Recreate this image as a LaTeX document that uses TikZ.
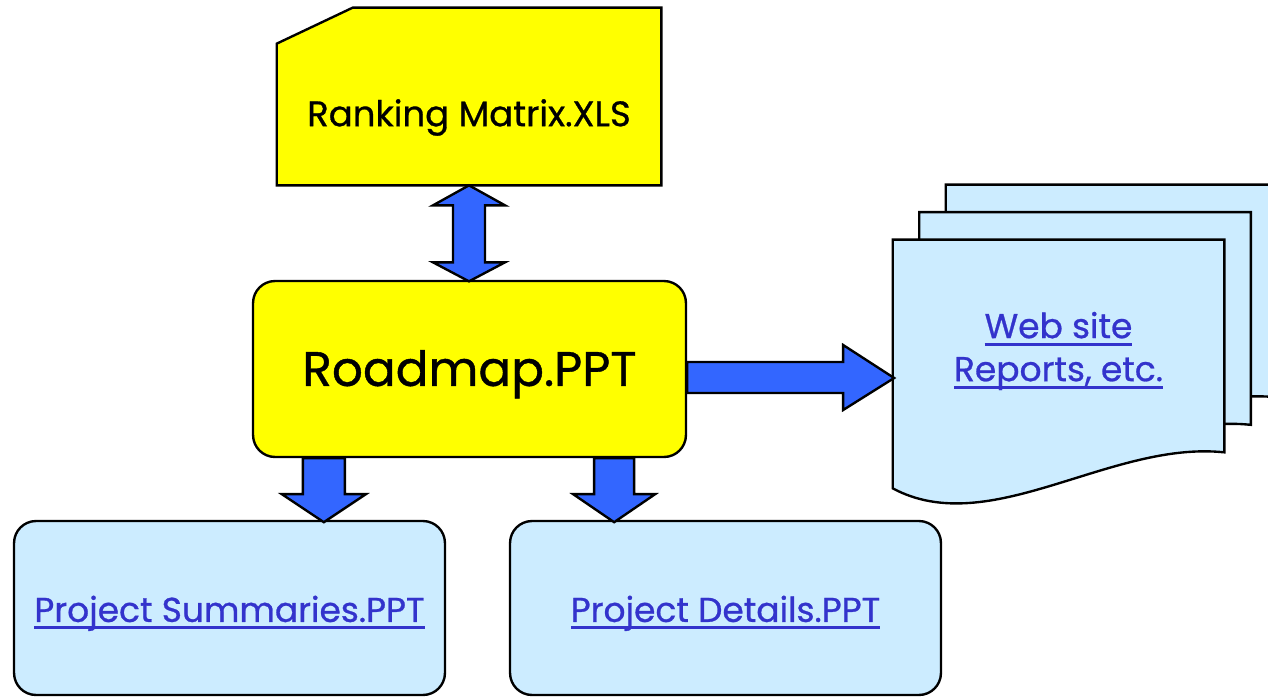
\documentclass[tikz,border=0pt]{standalone}
\usepackage{fontspec}
\setmainfont{Poppins}[FakeBold=0.8]
\usepackage{tikz}
\usetikzlibrary{calc}
\usetikzlibrary{backgrounds}

\definecolor{cardyellow}{HTML}{FFFF00}
\definecolor{pageblue}{HTML}{CCECFF}
\definecolor{arrowblue}{HTML}{3366FF}
\definecolor{linkblue}{HTML}{3333CC}

% thick underline for the link texts
\newcommand\linkline[1]{\leavevmode\setbox0=\hbox{#1}\rlap{\rule[-0.22em]{\wd0}{1.8pt}}\box0}
% move a text down without changing its box
\newcommand\lowertext[2]{\raisebox{-#1}[\height][\depth]{#2}}

\tikzset{
	outline/.style={draw=black,line width=1.35pt,line join=miter},
	yellowbox/.style={outline,fill=cardyellow,rounded corners=0.44cm},
	bluebox/.style={outline,fill=pageblue,rounded corners=0.44cm,minimum width=8.62cm,minimum height=3.48cm},
	blockarrow/.style={outline,fill=arrowblue},
	linktext/.style={text=linkblue,font=\fontsize{19.6}{24.5}\selectfont,align=center}
}

\begin{document}
	\begin{tikzpicture}[x=0.02cm,y=-0.02cm]
		\path[use as bounding box] (0,0) rectangle (1268,697);
		\clip (0,0) rectangle (1268,697);

		\begin{scope}[every node/.style={inner sep=0pt}]
			\node (rank) [minimum width=7.68cm,minimum height=2.82cm,font=\fontsize{20.2}{24}\selectfont] at (469,114.5) {\lowertext{1.7pt}{Ranking Matrix.XLS}};
			\node (road) [yellowbox,minimum width=8.66cm,minimum height=3.52cm,font=\fontsize{27.6}{32}\selectfont] at (469.5,369) {\lowertext{3pt}{Roadmap.PPT}};
			\node (web) [linktext,minimum width=6.62cm,minimum height=4.32cm] at (1058.5,348) {\lowertext{1.7pt}{\linkline{Web site}}\\\lowertext{1.7pt}{\linkline{Reports, etc.}}};
			\node (summ) [bluebox,linktext] at (229.5,608) {\lowertext{3pt}{\linkline{Project Summaries.PPT}}};
			\node (det) [bluebox,linktext] at (725.5,608) {\lowertext{3pt}{\linkline{Project Details.PPT}}};
		\end{scope}

		\begin{scope}[on background layer]
			% spreadsheet card with the cut corner
			\draw[outline,fill=cardyellow] (rank.south west) -- (rank.north west)
				-- ($(rank.north west)+(76,-36)$) -- ($(rank.north east)+(0,-36)$)
				-- (rank.south east) -- cycle;
			% stack of pages, back one first
			\foreach \dx/\dy in {53/-55,26.5/-27.5,0/0}
				\draw[outline,fill=pageblue]
					($(web.north west)+(\dx,\dy)$) -- ($(web.north east)+(\dx,\dy)$)
					-- ($(web.south east)+(\dx,\dy-4)$)
					.. controls ($(web.south east)+(\dx-114,\dy-16)$) and ($(web.south west)+(\dx+97,\dy+84)$)
					.. ($(web.south west)+(\dx,\dy+32)$) -- cycle;
		\end{scope}

		% fat arrows
		\draw[blockarrow] (rank.south) -- ++(36,20) -- ++(-20,0) -- ++(0,57) -- ++(20,0)
			-- ++(-36,19) -- ++(-36,-19) -- ++(20,0) -- ++(0,-57) -- ++(-20,0) -- cycle;
		\draw[blockarrow] ($(road.east)+(0,-7)$) -- ++(156,0) -- ++(0,-17) -- ++(51,33)
			-- ++(-51,32) -- ++(0,-17) -- ++(-156,0) -- cycle;
		\draw[blockarrow] ($(road.south west)+(51,0)$) -- ++(0,36) -- ++(-21,0) -- ++(42,28)
			-- ++(42,-28) -- ++(-21,0) -- ++(0,-36) -- cycle;
		\draw[blockarrow] ($(road.south east)+(-93,0)$) -- ++(0,36) -- ++(-21,0) -- ++(41,28)
			-- ++(41,-28) -- ++(-21,0) -- ++(0,-36) -- cycle;
	\end{tikzpicture}
\end{document}
